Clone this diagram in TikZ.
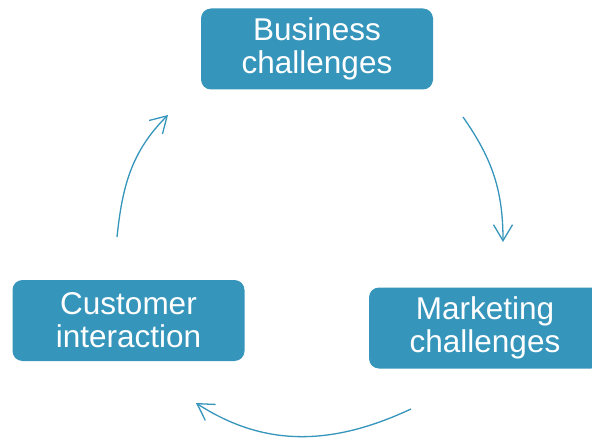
\documentclass[tikz,border=0pt]{standalone}
\usepackage{fontspec}
\setmainfont{Liberation Sans}
\usetikzlibrary{arrows.meta}
\definecolor{cycleblue}{RGB}{53,149,187}
\begin{document}
\begin{tikzpicture}[x=1pt,y=1pt,
  stagebox/.style={fill=cycleblue, rounded corners=10pt, minimum width=232pt,
    minimum height=81pt, inner sep=0pt, text=white, align=center,
    font=\fontsize{31.5pt}{33pt}\selectfont},
  cyclearrow/.style={draw=cycleblue, line width=1.3pt,
    -{Straight Barb[length=16pt,width=19pt,line width=1.3pt]}}]
  \clip (0,0) rectangle (592,440);
  \useasboundingbox (0,0) rectangle (592,440);
  \node[stagebox] (business) at (317,391) {Business\\challenges};
  \node[stagebox] (marketing) at (485,112) {Marketing\\challenges};
  \node[stagebox] (customer) at (128.5,119.5) {Customer\\interaction};
  \coordinate (a1s) at (463,323);
  \coordinate (a1e) at (503,198);
  \coordinate (a2s) at (411,31);
  \coordinate (a2e) at (196,37);
  \coordinate (a3s) at (117,203);
  \coordinate (a3e) at (168,325);
  \draw[cyclearrow] (a1s) to[out=-55,in=90] (a1e);
  \draw[cyclearrow] (a2s) to[out=205,in=-33] (a2e);
  \draw[cyclearrow] (a3s) to[out=84,in=225] (a3e);
\end{tikzpicture}
\end{document}
